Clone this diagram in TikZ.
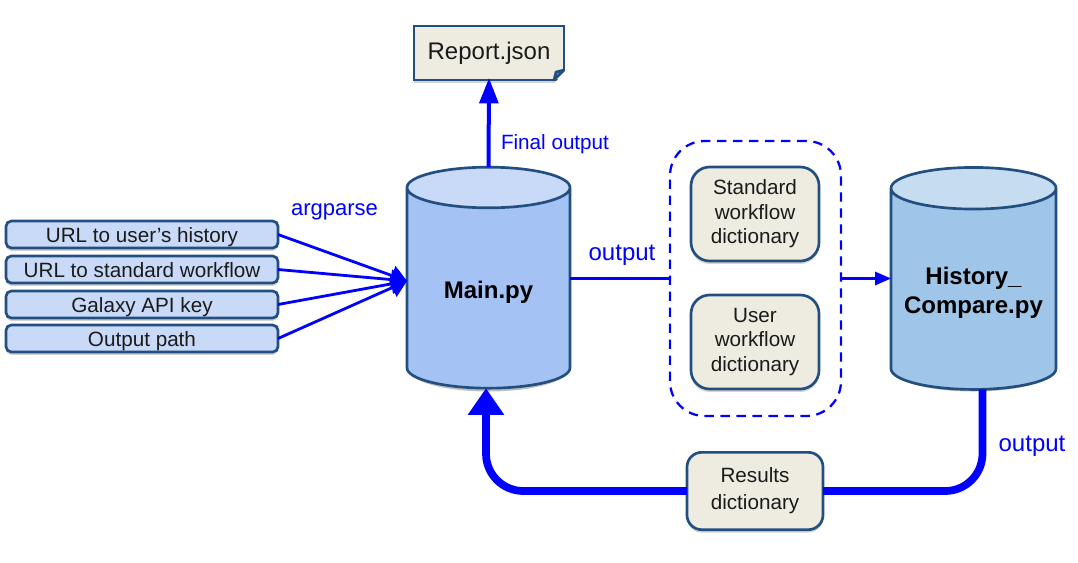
\documentclass[tikz,border=0pt]{standalone}
\usepackage{fontspec}
\setmainfont{Liberation Sans}
\usetikzlibrary{arrows.meta,calc,shadows,shapes.geometric}
\definecolor{edgeblue}{HTML}{234F80}
\definecolor{inputfill}{HTML}{C9DAF8}
\definecolor{mainfill}{HTML}{A4C2F4}
\definecolor{histfill}{HTML}{9FC5E8}
\definecolor{histtop}{HTML}{C6DCF0}
\definecolor{paper}{HTML}{EEECE1}
\definecolor{inktext}{HTML}{1A1A1A}
\newcommand{\droptext}[1]{\raisebox{-2.8pt}[\height][\depth]{#1}}
\tikzset{
	softshadow/.style={drop shadow={opacity=.35,shadow xshift=0pt,shadow yshift=-2.2pt}},
	inputbox/.style={draw=edgeblue,line width=2pt,fill=inputfill,rounded corners=4pt,minimum width=204pt,minimum height=20.25pt,inner sep=0pt,outer sep=0pt,text=inktext,text height=14.6pt,text depth=2.8pt,font=\fontsize{15.5pt}{18pt}\selectfont,softshadow},
	dictbox/.style={draw=edgeblue,line width=2pt,fill=paper,rounded corners=14pt,minimum width=96pt,minimum height=70.5pt,inner sep=0pt,outer sep=0pt,align=center,text=inktext,font=\fontsize{15.5pt}{18.4pt}\selectfont,softshadow},
	drum/.style={cylinder,shape border rotate=90,inner sep=0pt,outer sep=0pt,draw=edgeblue,line width=2pt,cylinder uses custom fill,align=center,font=\bfseries\fontsize{18pt}{21.8pt}\selectfont},
	drumshadow/.style={fill=black,opacity=.25},
	bluetext/.style={text=blue,inner sep=0pt},
	thinarrow/.style={draw=blue,line width=2.1pt,-{Triangle[length=12pt,width=15pt]}},
	thickarrow/.style={draw=blue,line width=5.8pt,rounded corners=28pt},
}
\begin{document}
\begin{tikzpicture}[x=.75pt,y=-.75pt]
	\useasboundingbox (0,0) rectangle (1078,562);
	% Centre column
	\path (755.5,278.5) node [draw=blue,line width=1.7pt,dash pattern=on 7pt off 5pt,rounded corners=26pt,minimum width=128.25pt,minimum height=206.25pt,inner sep=0pt,outer sep=0pt] (dictgroup) {};
	\path (755,214) node [dictbox] (standarddict) {Standard\\workflow\\dictionary};
	\path (755,342) node [dictbox] (userdict) {User\\workflow\\dictionary};
	% Scripts
	\fill [drumshadow] (407.5,368.5) arc [start angle=180,end angle=0,x radius=81,y radius=23] -- cycle;
	\path (488.5,288.5) node [drum,shape aspect=.455,cylinder body fill=mainfill,cylinder end fill=inputfill,minimum width=122.25pt,minimum height=165.75pt] (main) {\droptext{Main.py}};
	\fill [drumshadow] (891,368.5) arc [start angle=180,end angle=0,x radius=82.5,y radius=23] -- cycle;
	\path (973.5,289.5) node [drum,shape aspect=.30,cylinder body fill=histfill,cylinder end fill=histtop,minimum width=123.75pt,minimum height=166.5pt] (hist) {\droptext{History\_}\\\droptext{Compare.py}};
	% Report
	\path (489,53) node [draw=edgeblue,line width=2pt,fill=paper,minimum width=112.5pt,minimum height=40.5pt,inner sep=0pt,outer sep=0pt,text=inktext,font=\fontsize{18pt}{21pt}\selectfont,softshadow] (report) {Report.json};
	\fill [white] ($(report.south east)+(1.5,-10)$) -- ($(report.south east)+(1.5,4)$) -- ($(report.south east)+(-10,4)$) -- cycle;
	\draw [draw=edgeblue,line width=2pt,fill=edgeblue!60,line join=round] ($(report.south east)+(0,-10)$) -- ($(report.south east)+(-10,0)$) -- ($(report.south east)+(-8,-8)$) -- cycle;
	\draw [draw=blue,line width=3pt,shorten >=-1.5pt,-{Triangle[length=19pt,width=14pt]}] (main.north) -- (report.south);
	% Inputs
	\coordinate (argin) at (407,281);
	\foreach \i/\y/\label in {1/234.5/URL to user’s history,2/269.5/URL to standard workflow,3/304.5/Galaxy API key,4/338.5/Output path}{
		\path (142,\y) node [inputbox] (input\i) {\label};
		\draw [thinarrow] (input\i.east) -- (argin);
	}
	% Connectors
	\draw [draw=blue,line width=1.7pt] (main.east |- dictgroup.west) -- (dictgroup.west);
	\draw [draw=blue,line width=1.7pt,-{Triangle[length=12pt,width=10pt]}] (dictgroup.east) -- (hist.west |- dictgroup.east);
	\path (755,491) node [dictbox,minimum width=102pt,minimum height=58pt,rounded corners=11pt,font=\fontsize{15.5pt}{20.2pt}\selectfont] (results) {Results\\dictionary};
	\draw [thickarrow] ($(hist.south)+(9,0)$) |- (results.east);
	\draw [thickarrow,-{Triangle[length=20pt,width=26pt]}] (results.west) -| ($(main.south)+(-2.5,0)$);
	% Labels
	\path (555,144) node [bluetext,font=\fontsize{15.5pt}{18pt}\selectfont] (finallabel) {Final output};
	\path (334.5,212) node [bluetext,font=\fontsize{16.5pt}{18pt}\selectfont] (arglabel) {argparse};
	\path (622,255) node [bluetext,font=\fontsize{18pt}{21pt}\selectfont] (outlabel) {output};
	\path (1032,446) node [bluetext,font=\fontsize{18pt}{21pt}\selectfont] (backlabel) {output};
\end{tikzpicture}
\end{document}
